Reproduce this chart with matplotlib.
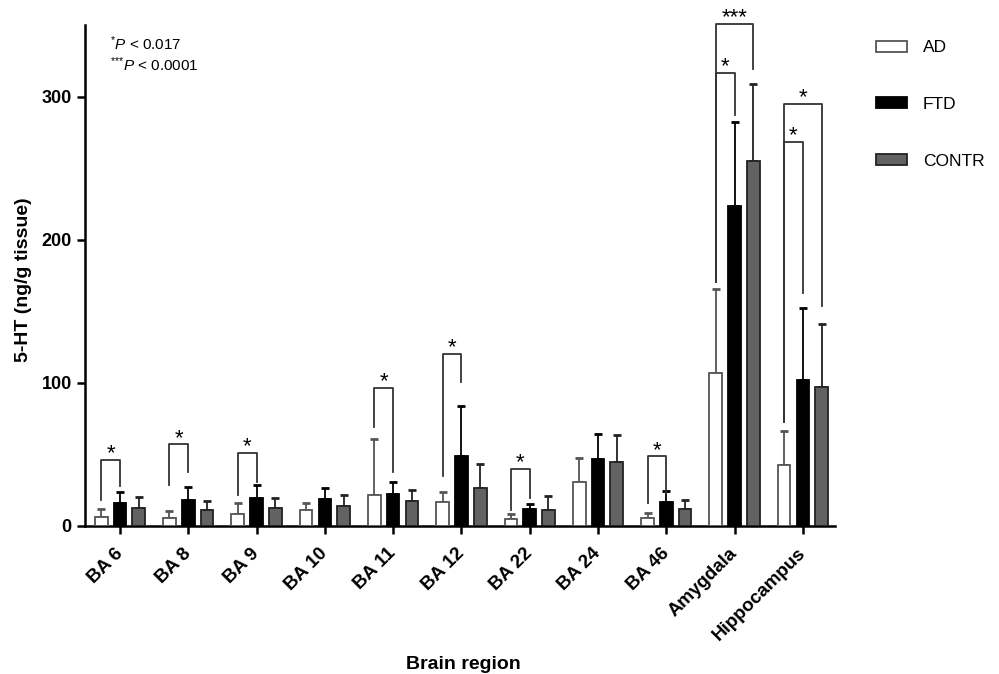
import matplotlib
matplotlib.use("Agg")
import matplotlib.pyplot as plt
import numpy as np

plt.rcParams['font.family'] = ['Liberation Sans', 'DejaVu Sans']
plt.rcParams['mathtext.fontset'] = 'custom'
plt.rcParams['mathtext.rm'] = 'Liberation Sans'
plt.rcParams['mathtext.it'] = 'Liberation Sans:italic'

# -- Data: mean 5-HT per region (ng/g tissue) and SD (upper bar only)
regions = ["BA 6", "BA 8", "BA 9", "BA 10", "BA 11", "BA 12", "BA 22",
           "BA 24", "BA 46", "Amygdala", "Hippocampus"]
ad_mean = [6.1, 5.4, 8.4, 11.2, 21.7, 17.0, 4.9, 30.6, 5.6, 107.0, 42.7]
ad_sd = [5.6, 5.1, 7.5, 5.2, 39.0, 6.8, 3.7, 16.8, 3.3, 58.4, 23.4]
ftd_mean = [16.1, 18.2, 19.9, 19.2, 22.2, 49.0, 11.7, 46.7, 16.6, 223.8, 102.3]
ftd_sd = [7.3, 8.7, 8.4, 7.4, 8.6, 34.9, 3.7, 17.5, 7.9, 58.4, 49.7]
contr_mean = [12.4, 11.0, 12.4, 14.2, 17.5, 26.4, 11.0, 44.6, 11.7, 255.3, 97.0]
contr_sd = [8.1, 6.7, 7.0, 7.3, 7.3, 17.0, 10.2, 19.2, 6.7, 53.3, 44.0]

# significance brackets: (region index, second bar, left leg end, right leg end, top, label)
# second bar: 1 = FTD, 2 = CONTR (first bar is always AD)
brackets = [
    (0, 1, 18.0, 27.6, 46.0, "*"),
    (1, 1, 28.7, 37.6, 57.0, "*"),
    (2, 1, 21.7, 31.0, 51.0, "*"),
    (4, 1, 69.0, 38.0, 96.7, "*"),
    (5, 1, 34.6, 100.7, 120.5, "*"),
    (6, 1, 11.2, 19.4, 39.7, "*"),
    (8, 1, 16.4, 22.9, 48.6, "*"),
    (9, 1, 170.3, 286.8, 316.7, "*"),
    (9, 2, 170.3, 319.5, 351.0, "***"),
    (10, 1, 72.7, 162.6, 268.2, "*"),
    (10, 2, 72.7, 153.7, 295.0, "*"),
]

x = np.arange(len(regions))
offset = 0.275
width = 0.185

fig = plt.figure(figsize=(9.99, 6.74), dpi=100)
ax = fig.add_axes([0.0851, 0.2196, 0.7507, 0.7433])

series = [
    ("AD", ad_mean, ad_sd, "white", "#555555", "#555555"),
    ("FTD", ftd_mean, ftd_sd, "black", "black", "black"),
    ("CONTR", contr_mean, contr_sd, "#626262", "#222222", "#222222"),
]
for i, (name, mean, sd, face, edge, ecol) in enumerate(series):
    pos = x + (i - 1) * offset
    ax.bar(pos, mean, width, color=face, edgecolor=edge, linewidth=1.3,
           label=name, zorder=3)
    ax.errorbar(pos, mean, yerr=[np.zeros(len(sd)), sd], fmt="none",
                ecolor=ecol, elinewidth=1.3, capsize=3.2, capthick=2, zorder=2)

# brackets with stars
for idx, other, y_left, y_right, top, label in brackets:
    xl = x[idx] - offset
    xr = x[idx] + (other - 1) * offset
    ax.plot([xl, xl, xr, xr], [y_left, top, top, y_right], color="#333333",
            lw=1.3, clip_on=False, zorder=4)
    ax.annotate(label, ((xl + xr) / 2, top), xytext=(0, 0.5),
                textcoords="offset points", ha="center", va="baseline",
                fontsize=16, annotation_clip=False)

ax.set_xlim(-0.512, 10.47)
ax.set_ylim(0, 350)
ax.set_yticks([0, 100, 200, 300])
ax.set_xticks(x)
ax.set_xticklabels(regions, rotation=45, ha="right", va="center",
                   rotation_mode="anchor", fontweight="bold", fontsize=13.5)
for lab in ax.get_yticklabels():
    lab.set_fontweight("bold")
    lab.set_fontsize(13)
ax.tick_params(axis="both", width=1.8, length=6, direction="out")
ax.tick_params(axis="x", pad=12)
for side in ("top", "right"):
    ax.spines[side].set_visible(False)
for side in ("left", "bottom"):
    ax.spines[side].set_linewidth(1.8)

ax.set_xlabel("Brain region", fontsize=14, fontweight="bold")
ax.set_ylabel("5-HT (ng/g tissue)", fontsize=14, fontweight="bold")
ax.xaxis.set_label_coords(0.504, -0.259)
ax.yaxis.set_label_coords(-0.071, 0.491)

ax.text(0.033, 0.962, r"$^{{*}}\mathit{P}$ < 0.017", transform=ax.transAxes,
        fontsize=11, va="center")
ax.text(0.033, 0.92, r"$^{{*}{*}{*}}\mathit{P}$ < 0.0001", transform=ax.transAxes,
        fontsize=11, va="center")

ax.legend(loc="upper left", bbox_to_anchor=(0.877, 0.94),
          bbox_transform=fig.transFigure, frameon=False, fontsize=12.5,
          handlelength=1.8, handleheight=0.6, handletextpad=0.9,
          labelspacing=2.4, borderpad=0, borderaxespad=0)

plt.savefig("out.png", dpi=100)
